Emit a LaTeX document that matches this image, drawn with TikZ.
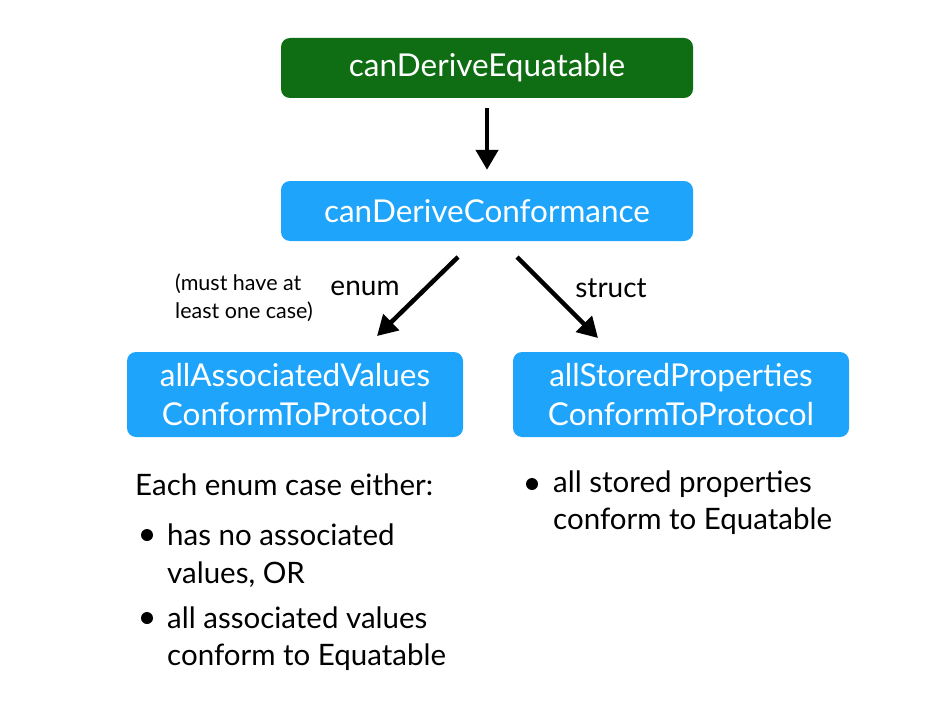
\documentclass[tikz,border=0pt]{standalone}
\usepackage{fontspec}
\setmainfont{Lato}
\usetikzlibrary{arrows.meta,positioning}
\definecolor{derivegreen}{HTML}{0F6E14}
\definecolor{deriveblue}{HTML}{1EA5FB}
\tikzset{
    box/.style={rounded corners=9pt, text=white, align=center, font=\fontsize{31.5}{39}\selectfont, inner sep=0pt},
    flow/.style={line width=4.5pt, -{Triangle[width=22pt,length=20pt]}},
    note/.style={anchor=west, inner sep=0pt, font=\fontsize{29.5}{30}\selectfont},
    dot/.style={circle, fill=black, inner sep=0pt, minimum size=12pt}
}
\begin{document}
\begin{tikzpicture}[x=1pt,y=-1pt]
    \useasboundingbox (0,0) rectangle (949,722);
    \node[box, fill=derivegreen, minimum width=412pt, minimum height=60pt] (equatable) at (487,68) {canDeriveEquatable};
    \node[box, fill=deriveblue, minimum width=412pt, minimum height=60pt] (conformance) at (487,211) {canDeriveConformance};
    \node[box, fill=deriveblue, minimum width=336pt, minimum height=85pt] (enumbox) at (295,394.5) {allAssociatedValues\\ConformToProtocol};
    \node[box, fill=deriveblue, minimum width=336pt, minimum height=85pt] (structbox) at (681,394.5) {allStoredProperties\\ConformToProtocol};
    % arrows
    \coordinate (enumstart) at (458,257);
    \coordinate (enumend) at (377,336);
    \coordinate (structstart) at (517,257);
    \coordinate (structend) at (598,338);
    \draw[flow, shorten <=10pt, shorten >=11pt] (equatable) -- (conformance);
    \draw[flow] (enumstart) -- (enumend);
    \draw[flow] (structstart) -- (structend);
    \node[font=\fontsize{28}{28}\selectfont] (enumlabel) at (365,288) {enum};
    \node[font=\fontsize{28}{28}\selectfont] (structlabel) at (611,288) {struct};
    \node[anchor=west, align=left, inner sep=0pt, font=\fontsize{21.5}{28}\selectfont] (caselabel) at (175,298) {(must have at\\least one case)};
    % enum conditions
    \node[note] (either) at (135,485) {Each enum case either:};
    \node[dot] (dota) at (147,535) {};
    \node[note] (novalues) at (167,535) {has no associated};
    \node[note] (novalues2) at (167,575) {values, OR};
    \node[dot] (dotb) at (147,618) {};
    \node[note] (allvalues) at (167,618) {all associated values};
    \node[note] (allvalues2) at (167,657) {conform to Equatable};
    % struct conditions
    \node[dot] (dotc) at (532,484) {};
    \node[note] (stored) at (553,484) {all stored properties};
    \node[note] (stored2) at (553,521) {conform to Equatable};
\end{tikzpicture}
\end{document}
